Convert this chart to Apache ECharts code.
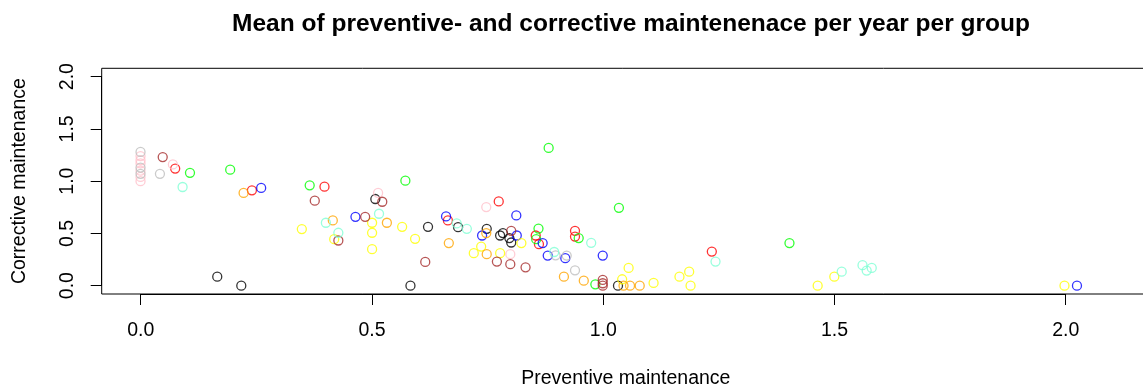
<!DOCTYPE html>
<html>
<head>
<meta charset="utf-8">
<script src="https://cdn.jsdelivr.net/npm/echarts@6/dist/echarts.min.js"></script>
<style>
html,body{margin:0;padding:0;background:#fff;}
#chart{width:1143px;height:389px;}
</style>
</head>
<body>
<div id="chart"></div>
<script>
// ---- data (x = preventive, y = corrective) ----
const groupNames = ["black","red","green","blue","yellow","orange","pink","brown","grey","aquamarine"];
const groupColors = ["#000000","#FF0000","#00FF00","#0000FF","#FFFF00","#FFA500","#FFC0CB","#A52A2A","#BEBEBE","#7FFFD4"];

const blackX = [0.166,0.218,0.508,0.584,0.622,0.687,0.749,0.778,0.784,0.798,0.802,1.033];
const blackY = [0.086,0.000,0.829,0.000,0.563,0.560,0.544,0.480,0.503,0.455,0.413,0.000];

const redX = [0.075,0.241,0.398,0.665,0.775,0.855,0.862,0.940,0.940,1.236];
const redY = [1.120,0.912,0.947,0.624,0.806,0.480,0.397,0.525,0.470,0.326];

const greenX = [0.107,0.194,0.366,0.573,0.861,0.856,0.883,0.948,0.984,1.035,1.404];
const greenY = [1.080,1.110,0.960,1.005,0.546,0.445,1.318,0.455,0.013,0.745,0.407];

const blueX = [0.261,0.465,0.661,0.739,0.813,0.814,0.870,0.881,0.919,1.000,2.026];
const blueY = [0.935,0.659,0.662,0.480,0.672,0.480,0.407,0.288,0.263,0.288,0.000];

const yellowX = [0.349,0.419,0.501,0.501,0.501,0.566,0.594,0.721,0.737,0.778,0.824,1.042,1.056,1.110,1.166,1.187,1.190,1.465,1.501,1.999];
const yellowY = [0.541,0.445,0.602,0.506,0.349,0.563,0.448,0.311,0.374,0.311,0.407,0.061,0.170,0.026,0.086,0.134,0.000,0.000,0.086,0.000];

const orangeX = [0.223,0.416,0.533,0.667,0.748,0.749,0.916,0.959,1.045,1.059,1.080];
const orangeY = [0.887,0.624,0.602,0.407,0.503,0.301,0.086,0.048,0.000,0.000,0.000];

const pinkX = [0,0,0,0,0,0,0.070,0.514,0.748,0.800];
const pinkY = [1.240,1.200,1.170,1.100,1.040,1.000,1.160,0.887,0.752,0.301];

const brownX = [0.048,0.377,0.428,0.486,0.523,0.616,0.771,0.800,0.802,0.833,1.000,1.000,1.000];
const brownY = [1.230,0.813,0.432,0.659,0.803,0.227,0.230,0.205,0.525,0.175,0.055,0.023,0.000];

const greyX = [0,0,0,0.042,0.898,0.922,0.940];
const greyY = [1.280,1.130,1.070,1.070,0.290,0.288,0.147];

const aquaX = [0.091,0.401,0.428,0.516,0.684,0.706,0.895,0.975,1.244,1.517,1.562,1.571,1.582];
const aquaY = [0.944,0.602,0.506,0.688,0.595,0.544,0.322,0.410,0.230,0.134,0.196,0.144,0.170];

const xTicks = [0, 0.5, 1.0, 1.5, 2.0];
const yTicks = [0, 0.5, 1.0, 1.5, 2.0];

const titleText = "Mean of preventive- and corrective maintenenace per year per group";
const xName = "Preventive maintenance";
const yName = "Corrective maintenance";

// ---- build ----
const groupsX = [blackX,redX,greenX,blueX,yellowX,orangeX,pinkX,brownX,greyX,aquaX];
const groupsY = [blackY,redY,greenY,blueY,yellowY,orangeY,pinkY,brownY,greyY,aquaY];

const FONT = "'Liberation Sans', Arial, sans-serif";
const fmt = v => v.toFixed(1);

const series = groupNames.map((name, i) => ({
  name: name,
  type: 'scatter',
  xAxisIndex: 0,
  yAxisIndex: 0,
  symbol: 'circle',
  symbolSize: 9,
  itemStyle: { color: 'rgba(0,0,0,0)', borderColor: groupColors[i], borderWidth: 1.3 },
  emphasis: { disabled: true },
  data: groupsX[i].map((x, j) => [x, groupsY[i][j]])
}));

const chart = echarts.init(document.getElementById('chart'), null, { renderer: 'canvas' });
chart.setOption({
  animation: false,
  backgroundColor: '#ffffff',
  textStyle: { fontFamily: FONT },
  title: {
    text: titleText,
    left: 626,
    top: 7,
    textAlign: 'center',
    textStyle: { fontFamily: FONT, fontWeight: 'bold', fontSize: 24.5, color: '#000' }
  },
  grid: [
    { left: 101.7, right: -7, top: 68.3, bottom: 95, show: true, borderColor: '#000', borderWidth: 1, backgroundColor: 'transparent', containLabel: false, outerBoundsMode: 'none' },
    { left: 140.7, right: 77.3, top: 68.3, bottom: 95, containLabel: false, outerBoundsMode: 'none' },
    { left: 101.7, right: -7, top: 76.6, bottom: 103.4, containLabel: false, outerBoundsMode: 'none' }
  ],
  xAxis: [
    {
      gridIndex: 0, type: 'value', min: -0.084, max: 2.184,
      axisLine: { show: false }, axisTick: { show: false }, axisLabel: { show: false }, splitLine: { show: false },
      name: xName, nameLocation: 'middle', nameGap: 75,
      nameTextStyle: { fontFamily: FONT, fontSize: 19.5, color: '#000' }
    },
    {
      gridIndex: 1, type: 'value', min: 0, max: 2, interval: 0.5,
      axisLine: { show: true, lineStyle: { color: '#000', width: 1 } },
      axisTick: { show: true, inside: false, length: 11, lineStyle: { color: '#000', width: 1 } },
      axisLabel: { show: true, margin: 27, formatter: fmt, fontFamily: FONT, fontSize: 19.5, color: '#000', showMinLabel: true, showMaxLabel: true },
      splitLine: { show: false }
    },
    {
      gridIndex: 2, type: 'value', min: 0, max: 2, show: false
    }
  ],
  yAxis: [
    {
      gridIndex: 0, type: 'value', min: -0.08, max: 2.08,
      axisLine: { show: false }, axisTick: { show: false }, axisLabel: { show: false }, splitLine: { show: false },
      name: yName, nameLocation: 'middle', nameGap: 72,
      nameTextStyle: { fontFamily: FONT, fontSize: 19.5, color: '#000' }
    },
    {
      gridIndex: 1, type: 'value', min: 0, max: 2, show: false
    },
    {
      gridIndex: 2, type: 'value', min: 0, max: 2, interval: 0.5,
      axisLine: { show: true, lineStyle: { color: '#000', width: 1 } },
      axisTick: { show: true, inside: false, length: 11, lineStyle: { color: '#000', width: 1 } },
      axisLabel: { show: true, margin: 24, rotate: 90, formatter: fmt, fontFamily: FONT, fontSize: 19.5, color: '#000', showMinLabel: true, showMaxLabel: true },
      splitLine: { show: false }
    }
  ],
  series: series
});
</script>
</body>
</html>
